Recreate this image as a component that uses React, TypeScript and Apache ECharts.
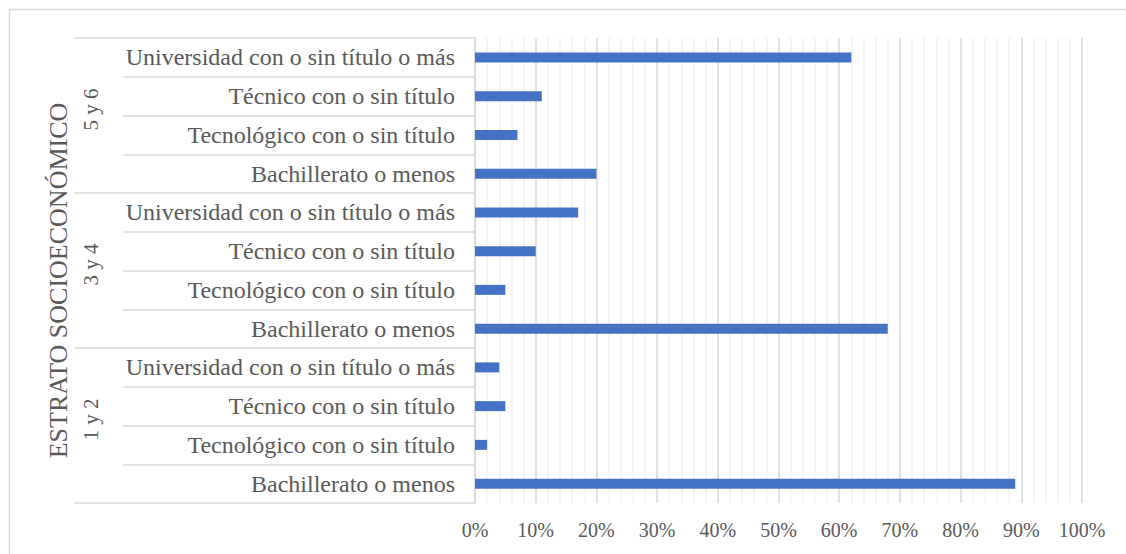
import React, { useEffect, useRef } from "react";
import * as echarts from "echarts";

const groups = ["1 y 2", "3 y 4", "5 y 6"];
const levels = [
  "Bachillerato o menos",
  "Tecnológico con o sin título",
  "Técnico con o sin título",
  "Universidad con o sin título o más",
];
const values1y2 = [89, 2, 5, 4];
const values3y4 = [68, 5, 10, 17];
const values5y6 = [20, 7, 11, 62];
const axisTitle = "ESTRATO SOCIOECONÓMICO";
const xTicks = { min: 0, max: 100, interval: 10 };

const FONT = "'Liberation Serif', 'Times New Roman', serif";
const TEXT = "#595959";
const GRID_MAJOR = "#d9d9d9";
const GRID_MINOR = "#f0f0f0";
const BAR = "#4472c4";

export default function App() {
  const ref = useRef<HTMLDivElement>(null);
  useEffect(() => {
    if (!ref.current) return;
    const chart = echarts.init(ref.current, undefined, { renderer: "svg" });
    const categories: string[] = [];
    groups.forEach(() => levels.forEach((l) => categories.push(l)));
    const values = [...values1y2, ...values3y4, ...values5y6];
    const top = 38;
    const bottom = 51;
    chart.setOption({
      animation: false,
      backgroundColor: "#ffffff",
      textStyle: { fontFamily: FONT },
      graphic: [
        {
          type: "rect",
          shape: { x: 9.5, y: 9.5, width: 1140, height: 560 },
          style: { fill: "none", stroke: GRID_MAJOR, lineWidth: 1.5 },
          silent: true,
          z: -10,
        },
      ],
      grid: [
        { left: 475, right: 44, top, bottom },
        { left: 123, width: 352, top, bottom },
        { left: 74, width: 49, top, bottom },
      ],
      xAxis: [
        {
          gridIndex: 0,
          type: "value",
          min: xTicks.min,
          max: xTicks.max,
          interval: xTicks.interval,
          axisLine: { show: false },
          axisTick: { show: false },
          axisLabel: {
            formatter: "{value}%",
            color: TEXT,
            fontSize: 20,
            fontFamily: FONT,
            margin: 17,
          },
          splitLine: { show: true, lineStyle: { color: GRID_MAJOR, width: 1.5 } },
          minorTick: { show: false, splitNumber: 5 },
          minorSplitLine: { show: true, lineStyle: { color: GRID_MINOR, width: 1.5 } },
        },
        { gridIndex: 1, type: "value", min: 0, max: 1, show: false },
        { gridIndex: 2, type: "value", min: 0, max: 1, show: false },
      ],
      yAxis: [
        {
          gridIndex: 0,
          type: "category",
          data: categories,
          axisLine: { show: true, lineStyle: { color: GRID_MAJOR, width: 1.5 } },
          axisTick: { show: false },
          splitLine: { show: false },
          axisLabel: {
            color: TEXT,
            fontSize: 24,
            fontFamily: FONT,
            margin: 20,
            interval: 0,
          },
        },
        {
          gridIndex: 1,
          type: "category",
          data: categories,
          axisLine: { show: false },
          axisTick: { show: false },
          axisLabel: { show: false },
          splitLine: { show: true, interval: 0, lineStyle: { color: GRID_MAJOR, width: 1.5 } },
        },
        {
          gridIndex: 2,
          type: "category",
          data: groups,
          name: axisTitle,
          nameLocation: "middle",
          nameRotate: 90,
          nameGap: 3,
          nameTextStyle: {
            color: TEXT,
            fontSize: 26,
            fontFamily: FONT,
            padding: [0, 20, 0, 0],
          },
          axisLine: { show: false },
          axisTick: { show: false },
          axisLabel: {
            inside: true,
            rotate: 90,
            margin: 6,
            color: TEXT,
            fontSize: 21,
            fontFamily: FONT,
            interval: 0,
            padding: [0, 0, 0, 12],
          },
          splitLine: { show: true, interval: 0, lineStyle: { color: GRID_MAJOR, width: 1.5 } },
        },
      ],
      series: [
        {
          type: "bar",
          xAxisIndex: 0,
          yAxisIndex: 0,
          data: values,
          barWidth: 10,
          itemStyle: { color: BAR },
        },
      ],
    });
    return () => chart.dispose();
  }, []);
  return (
    <div
      ref={ref}
      style={{ position: "absolute", left: 0, top: 0, width: 1126, height: 554 }}
    />
  );
}
